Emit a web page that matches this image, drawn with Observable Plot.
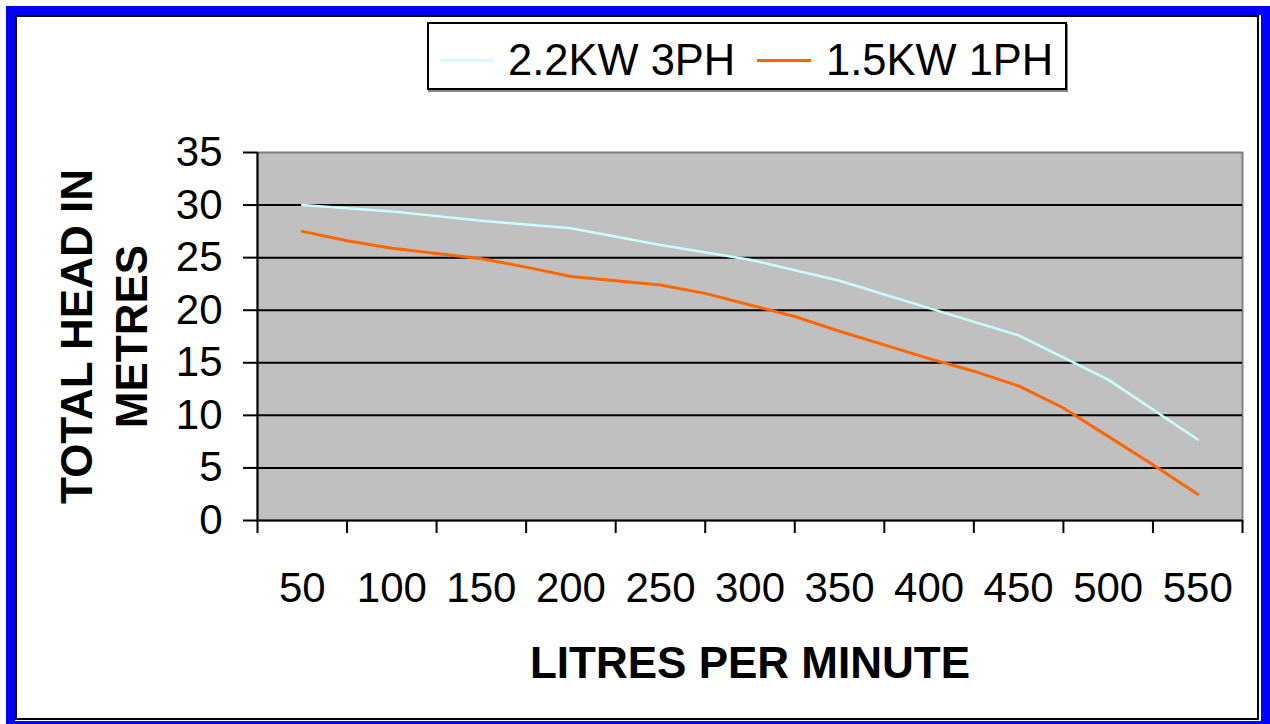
<!DOCTYPE html>
<html>
<head>
<meta charset="utf-8">
<script src="https://cdn.jsdelivr.net/npm/d3@7"></script>
<script src="https://cdn.jsdelivr.net/npm/@observablehq/plot@0.6"></script>
<style>
  html, body { margin: 0; padding: 0; background: #fff; }
  #page { position: relative; width: 1270px; height: 724px; overflow: hidden; background: #fff; font-family: "Liberation Sans", Arial, sans-serif; }
  #blue { position: absolute; left: 6px; top: 6px; width: 1264px; height: 724px; box-sizing: border-box; border: 9px solid #0000ff; }
  #inner { position: absolute; left: 15px; top: 15px; width: 1244px; height: 705px; box-sizing: border-box; border: 2px solid #000; }
  #chart { position: absolute; left: 0; top: 0; }
  #legend { position: absolute; left: 427px; top: 22px; width: 640px; height: 68px; box-sizing: border-box; border: 2px solid #000; box-shadow: 1px 2px 0 #888; background: #fff; }
  .sw { position: absolute; top: 35px; width: 54px; height: 3px; }
  .lt { position: absolute; top: 11px; font-size: 43.5px; line-height: 50px; color: #000; white-space: nowrap; }
</style>
</head>
<body>
<div id="page">
  <div id="blue"></div>
  <div id="inner"></div>
  <div id="chart"></div>
  <div id="legend">
    <div class="sw" style="left:11px;background:#ccffff"></div>
    <div class="lt" id="l1" style="left:79px"></div>
    <div class="sw" style="left:328px;background:#ff6600"></div>
    <div class="lt" id="l2" style="left:397px"></div>
  </div>
</div>
<script>
// Series names
const seriesNames = ["2.2KW 3PH", "1.5KW 1PH"];
// 2.2KW 3PH: flow (litres per minute) and head (metres)
const flow22 = [50, 100, 150, 200, 250, 300, 350, 400, 450, 500, 550];
const head22 = [30.0, 29.4, 28.5, 27.8, 26.2, 24.8, 22.8, 20.2, 17.6, 13.4, 7.7];
// 1.5KW 1PH
const flow15 = [50, 75, 100, 125, 150, 175, 200, 225, 250, 275, 300, 325, 350, 375, 400, 425, 450, 475, 500, 525, 550];
const head15 = [27.5, 26.6, 25.9, 25.4, 24.9, 24.1, 23.2, 22.8, 22.4, 21.6, 20.5, 19.4, 18.0, 16.7, 15.4, 14.2, 12.8, 10.7, 8.0, 5.3, 2.5];
// Axis ticks
const xLabels = [50, 100, 150, 200, 250, 300, 350, 400, 450, 500, 550];
const xTickMarks = [25, 75, 125, 175, 225, 275, 325, 375, 425, 475, 525, 575];
const yTicks = [0, 5, 10, 15, 20, 25, 30, 35];
const gridY = [5, 10, 15, 20, 25, 30];

document.getElementById("l1").textContent = seriesNames[0];
document.getElementById("l2").textContent = seriesNames[1];

const data22 = flow22.map((f, i) => ({flow: f, head: head22[i]}));
const data15 = flow15.map((f, i) => ({flow: f, head: head15[i]}));

const chart = Plot.plot({
  width: 1270,
  height: 724,
  marginLeft: 257,
  marginRight: 28,
  marginTop: 152,
  marginBottom: 204,
  style: { background: "transparent", fontFamily: "'Liberation Sans', Arial, sans-serif", color: "#000" },
  x: { domain: [25, 575] },
  y: { domain: [0, 35] },
  marks: [
    Plot.frame({ fill: "#c0c0c0", stroke: "#808080", strokeWidth: 2 }),
    Plot.ruleY(gridY, { stroke: "#000", strokeWidth: 2 }),
    Plot.ruleY([0], { stroke: "#000", strokeWidth: 2 }),
    Plot.ruleX([25], { stroke: "#000", strokeWidth: 2 }),
    Plot.axisY({ ticks: yTicks, tickSize: 14, tickPadding: 21, fontSize: 42, label: null, strokeWidth: 2 }),
    Plot.axisX({ ticks: xTickMarks, tickSize: 13, text: null, label: null, strokeWidth: 2 }),
    Plot.axisX({ ticks: xLabels, tickSize: 0, tickPadding: 52, fontSize: 42, label: null }),
    Plot.line(data22, { x: "flow", y: "head", stroke: "#ccffff", strokeWidth: 2.5 }),
    Plot.line(data15, { x: "flow", y: "head", stroke: "#ff6600", strokeWidth: 3 }),
    Plot.text(["LITRES PER MINUTE"], { frameAnchor: "bottom", dy: 143, fontSize: 44, fontWeight: "bold", lineAnchor: "middle" }),
    Plot.text(["TOTAL HEAD IN\nMETRES"], { frameAnchor: "left", dx: -156, rotate: -90, fontSize: 44, fontWeight: "bold", lineAnchor: "middle", textAnchor: "middle", lineHeight: 1.25 })
  ]
});
document.getElementById("chart").appendChild(chart);
</script>
</body>
</html>
